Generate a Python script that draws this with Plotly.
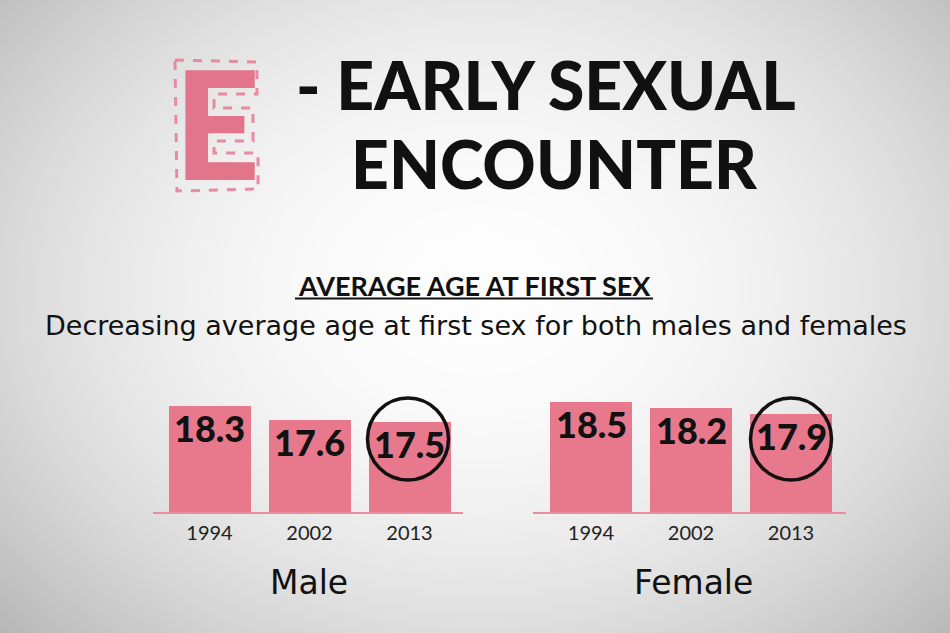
import base64, struct, zlib
import numpy as np
import plotly.graph_objects as go

W, H = 950, 633

# ---- data ----
years = ["1994", "2002", "2013"]
male_age = [18.3, 17.6, 17.5]
female_age = [18.5, 18.2, 17.9]

BAR = "#e8798d"
LINE = "#e98ea1"
PINK_E = "#e3758b"


def px(x):
    return x / W


def py(y):
    return 1 - y / H


# ---- radial grey background as PNG ----
def bg_png():
    yy, xx = np.mgrid[0:H, 0:W]
    r2 = ((xx - 480) / 560.0) ** 2 + ((yy - 290) / 430.0) ** 2
    v = np.clip(254 - 52 * r2, 0, 255).astype(np.uint8)
    raw = b"".join(b"\x00" + v[i].tobytes() for i in range(H))

    def chunk(t, d):
        c = struct.pack(">I", len(d)) + t + d
        return c + struct.pack(">I", zlib.crc32(t + d) & 0xFFFFFFFF)

    png = b"\x89PNG\r\n\x1a\n" + chunk(b"IHDR", struct.pack(">IIBBBBB", W, H, 8, 0, 0, 0, 0))
    png += chunk(b"IDAT", zlib.compress(raw, 9)) + chunk(b"IEND", b"")
    return "data:image/png;base64," + base64.b64encode(png).decode()


fig = go.Figure()

idx = list(range(len(years)))
ann = []
for vals, xa, ya in [(male_age, "x", "y"), (female_age, "x2", "y2")]:
    fig.add_trace(go.Bar(
        x=idx, y=vals, xaxis=xa, yaxis=ya, width=0.82,
        marker=dict(color=BAR, line=dict(width=0)),
        showlegend=False, hoverinfo="skip",
    ))
    for i, v in zip(idx, vals):
        ann.append(dict(text=f"{v:.1f}", x=i, y=v, xref=xa, yref=ya, showarrow=False,
                        xanchor="center", yanchor="top", yshift=2,
                        font=dict(family="Lato", size=36, color="#111111", weight=900)))

y_dom = [py(512), py(392)]
ax_common = dict(
    showgrid=False, zeroline=False, showline=True, linecolor=LINE, linewidth=2,
    tickmode="array", tickvals=idx, ticktext=years, ticks="",
    tickfont=dict(family="Lato", size=20, color="#222222"), fixedrange=True,
    ticklabelstandoff=2,
)
fig.update_layout(
    xaxis=dict(domain=[px(152.5), px(462.5)], range=[-0.57, 2.53], anchor="y", **ax_common),
    xaxis2=dict(domain=[px(533), px(846)], range=[-0.58, 2.55], anchor="y2", **ax_common),
    yaxis=dict(domain=y_dom, range=[13, 19], visible=False, fixedrange=True),
    yaxis2=dict(domain=y_dom, range=[13, 19], visible=False, fixedrange=True, anchor="x2"),
)

# circles highlighting the latest year
last = len(years) - 1
for xr, yr, cx in [("x", "y", last - 0.015), ("x2", "y2", last)]:
    fig.add_shape(type="circle", xref=xr, yref=yr, x0=cx - 0.405, x1=cx + 0.405,
                  y0=14.6, y1=18.7, line=dict(color="#111111", width=3.5))


def txt(s, x, y, size, weight="normal", color="#111111", family="Lato"):
    ann.append(dict(text=s, x=px(x), y=py(y), xref="paper", yref="paper",
                    showarrow=False, xanchor="center", yanchor="middle",
                    font=dict(family=family, size=size, color=color, weight=weight)))


txt("E", 217, 122, 150, weight=900, color=PINK_E)
txt("- EARLY SEXUAL", 546, 84, 66, weight=900)
txt("ENCOUNTER", 554, 163, 66, weight=900)
txt("AVERAGE AGE AT FIRST SEX", 474, 286, 27, weight="bold")
txt("Decreasing average age at first sex for both males and females", 476, 326, 27,
    family="DejaVu Sans")
txt("Male", 309, 582, 33, family="DejaVu Sans")
txt("Female", 693, 582, 33, family="DejaVu Sans")

# underline of the section heading
fig.add_shape(type="line", xref="paper", yref="paper", x0=px(295), x1=px(653),
              y0=py(298.5), y1=py(298.5), line=dict(color="#111111", width=2.2))

# dashed stamp outline around the E
pts = [(175, 60), (257, 62), (257, 94), (214, 94), (214, 108), (253, 108), (253, 141),
       (214, 141), (214, 153), (258, 153), (258, 189), (177, 191)]
path = "M" + " L".join(f"{px(a):.4f},{py(b):.4f}" for a, b in pts) + " Z"
fig.add_shape(type="path", xref="paper", yref="paper", path=path,
              line=dict(color="#e88aa0", width=3, dash="dash"))

fig.update_layout(
    width=W, height=H, margin=dict(l=0, r=0, t=0, b=0),
    paper_bgcolor="#e0e0e0", plot_bgcolor="rgba(0,0,0,0)",
    annotations=ann, bargap=0,
    images=[dict(source=bg_png(), xref="paper", yref="paper", x=0, y=1,
                 sizex=1, sizey=1, sizing="stretch", layer="below")],
)

fig.write_html("out.html", config={"displayModeBar": False},
               post_script="document.body.style.margin='0';")
